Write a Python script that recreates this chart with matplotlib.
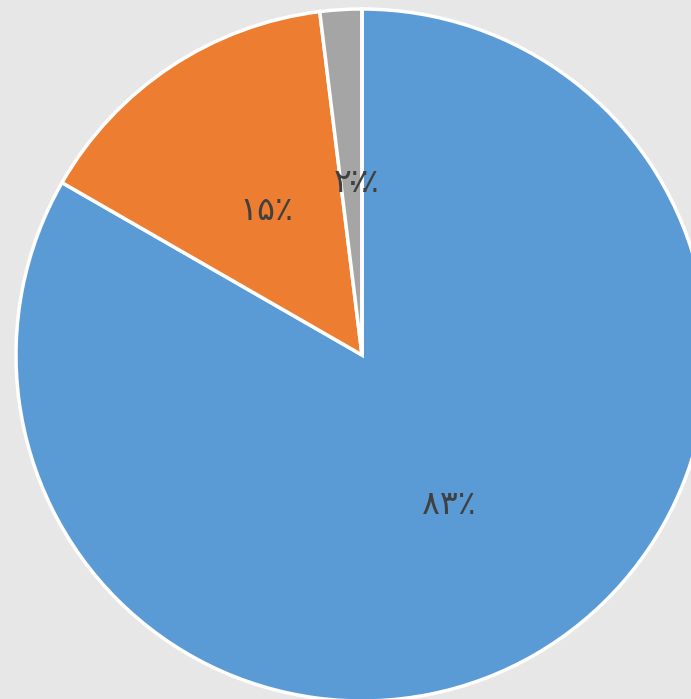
import matplotlib.pyplot as plt

values = [83.3, 14.75, 1.95, 0]
labels = ["۸۳٪", "۱۵٪", "۲٪", "۰٪"]
colors = ["#5B9BD5", "#ED7D31", "#A5A5A5", "#FFC000"]

W, H = 691, 699
cx, cy, R = 362, 355, 346

fig = plt.figure(figsize=(W / 100, H / 100), dpi=100)
fig.patch.set_facecolor("#E7E7E7")
ax = fig.add_axes([0, 0, 1, 1])
ax.set_facecolor("#E7E7E7")
ax.axis("off")

wedges, texts = ax.pie(values, colors=colors, startangle=90, counterclock=False,
                       labels=labels, labeldistance=0.5, radius=1.0,
                       wedgeprops=dict(edgecolor="white", linewidth=2.5),
                       textprops=dict(color="#404040", fontsize=24, family="DejaVu Sans",
                                      ha="center", va="center"))
for t in texts:
    t.set_ha("center")

ax.set_xlim(-cx / R, (W - cx) / R)
ax.set_ylim(-(H - cy) / R, cy / R)
ax.set_aspect("auto")

fig.savefig("out.png", dpi=100, facecolor=fig.get_facecolor())
